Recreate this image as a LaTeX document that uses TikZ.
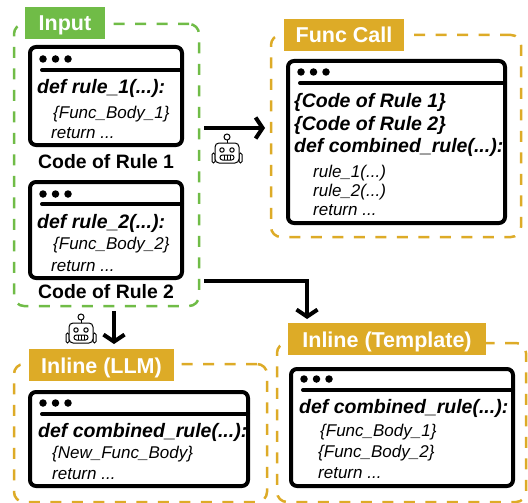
\documentclass[tikz,border=0pt]{standalone}
\usepackage{fontspec}
\setmainfont{Liberation Sans}
\usetikzlibrary{arrows.meta,calc}
\definecolor{inpgreen}{HTML}{70BC47}
\definecolor{gold}{HTML}{DDAB27}
\tikzset{
  x=1pt,y=1pt,
  group/.style={draw=#1,line width=2.5pt,rounded corners=10pt,dash pattern=on 11pt off 10.5pt,inner sep=0pt,outer sep=0pt,anchor=north west},
  tag/.style={fill=#1,text=white,inner sep=0pt,outer sep=0pt,anchor=north west,text height=16pt,text depth=0pt,font=\fontsize{21.5}{22}\selectfont\bfseries},
  win/.style={draw=black,line width=4pt,rounded corners=6pt,fill=white,inner sep=0pt,outer sep=0pt,anchor=north west},
  headline/.style={draw=black,line width=4pt,line cap=round},
  hdot/.style={circle,fill=black,inner sep=0pt,minimum size=7.5pt},
  sig/.style={anchor=base west,inner sep=0pt,font=\fontsize{19.5}{20}\selectfont\bfseries\itshape},
  bodytxt/.style={anchor=base west,inner sep=0pt,font=\fontsize{17}{18}\selectfont\itshape},
  caption/.style={anchor=base west,inner sep=0pt,font=\fontsize{19.4}{20}\selectfont\bfseries},
  flow/.style={draw=black,line width=4pt,-{Straight Barb[length=7pt,width=21pt,line width=4pt]}},
  robotline/.style={draw=black,line width=1pt},
  pics/robot/.style={code={
    \draw[robotline,fill=white,rounded corners=1.5pt] (-15,-3) rectangle (-12,-13);
    \draw[robotline,fill=white,rounded corners=1.5pt] (12,-3) rectangle (15,-13);
    \draw[robotline,fill=white,rounded corners=4pt] (-12,7) rectangle (12,-13);
    \draw[robotline] (0,7) -- (0,10);
    \draw[robotline] (0,13) circle (3);
    \draw[robotline] (-5,0) circle (2.2);
    \draw[robotline] (5,0) circle (2.2);
    \draw[robotline,rounded corners=2.5pt] (-7,-5) rectangle (7,-10);
    \draw[robotline] (-3,-5) -- (-3,-10) (0,-5) -- (0,-10) (3,-5) -- (3,-10);
  }}
}
% name, left, top, width, height (border centre lines), header y, dots y
\newcommand{\codewin}[7]{%
  \node[win,minimum width=#4pt,minimum height=#5pt] (#1) at (#2,-#3) {};
  \draw[headline] (#2+12,-#6) -- (#2+#4,-#6);
  \node[hdot] (#1d1) at (#2+13,-#7) {};
  \node[hdot] (#1d2) at (#2+25.5,-#7) {};
  \node[hdot] (#1d3) at (#2+38,-#7) {};
}
\begin{document}
\begin{tikzpicture}
\useasboundingbox (0,0) rectangle (528,-503);
% groups
\node[group=inpgreen,minimum width=185pt,minimum height=282pt] (inputbox) at (14,-24) {};
\node[group=gold,minimum width=250pt,minimum height=202pt] (funcbox) at (271,-35) {};
\node[group=gold,minimum width=253pt,minimum height=138pt] (llmbox) at (14,-364) {};
\node[group=gold,minimum width=249pt,minimum height=159pt] (tplbox) at (277,-343) {};
% tags
\node[tag=inpgreen,minimum width=80pt,minimum height=32pt] (inputtag) at (25,-7) {Input\hspace{5pt}};
\node[tag=gold,minimum width=120pt,minimum height=32pt] (functag) at (284,-19) {Func Call};
\node[tag=gold,minimum width=145pt,minimum height=32pt] (llmtag) at (29,-349) {Inline (LLM)\hspace{5pt}};
\node[tag=gold,minimum width=198pt,minimum height=32pt] (tpltag) at (288,-323) {Inline (Template)\hspace{4pt}};
% windows
\codewin{w1}{30}{47}{152}{98}{70}{59}
\codewin{w2}{30}{182}{152}{96}{204}{194}
\codewin{w3}{288}{61}{217}{162}{83}{72}
\codewin{w4}{30}{392}{218}{94}{414}{403}
\codewin{w5}{291}{369}{222}{117}{390}{379}
% window 1
\node[sig] (t11) at (37,-94) {def rule\_1(...):};
\node[bodytxt] (t12) at (53,-118) {\{Func\_Body\_1\}};
\node[bodytxt] (t13) at (51,-139) {return ...};
\node[caption] (c1) at (38,-168) {Code of Rule 1};
% window 2
\node[sig] (t21) at (37,-228) {def rule\_2(...):};
\node[bodytxt] (t22) at (53,-249) {\{Func\_Body\_2\}};
\node[bodytxt] (t23) at (51,-271) {return ...};
\node[caption] (c2) at (38,-298) {Code of Rule 2};
% window 3
\node[sig] (t31) at (294,-108) {\{Code of Rule 1\}};
\node[sig] (t32) at (294,-130) {\{Code of Rule 2\}};
\node[sig] (t33) at (294,-153) {def combined\_rule(...):};
\node[bodytxt] (t34) at (313,-177) {rule\_1(...)};
\node[bodytxt] (t35) at (313,-196) {rule\_2(...)};
\node[bodytxt] (t36) at (313,-215) {return ...};
% window 4
\node[sig] (t41) at (38,-437) {def combined\_rule(...):};
\node[bodytxt] (t42) at (52,-458) {\{New\_Func\_Body\}};
\node[bodytxt] (t43) at (52,-479) {return ...};
% window 5
\node[sig] (t51) at (299,-413) {def combined\_rule(...):};
\node[bodytxt] (t52) at (320,-436) {\{Func\_Body\_1\}};
\node[bodytxt] (t53) at (318,-457) {\{Func\_Body\_2\}};
\node[bodytxt] (t54) at (318,-478) {return ...};
% connectors
\draw[flow,shorten <=5pt,shorten >=6pt] (inputbox.east |- 0,-128) -- (funcbox.west |- 0,-128);
\draw[flow,shorten <=5pt,shorten >=4pt] (inputbox.east |- 0,-281) -| ([xshift=19pt]tpltag.north west);
\draw[flow,shorten <=5pt,shorten >=5pt] (inputbox.south -| 114,0) -- (llmtag.north -| 114,0);
% robots
\pic at (227,-150) {robot};
\pic at (81,-330) {robot};
\end{tikzpicture}
\end{document}
